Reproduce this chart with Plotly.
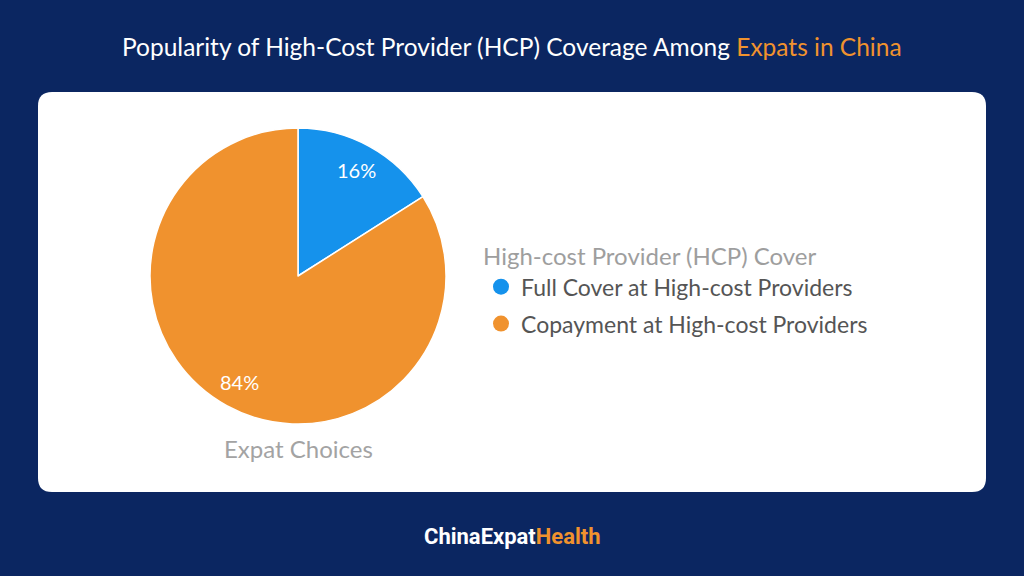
import math
import plotly.graph_objects as go

categories = ["Full Cover at High-cost Providers", "Copayment at High-cost Providers"]
shares = [16, 84]
colors = ["#1592EC", "#F0922E"]
legend_title = "High-cost Provider (HCP) Cover"
pie_caption = "Expat Choices"
title_main = "Popularity of High-Cost Provider (HCP) Coverage Among "
title_hl = "Expats in China"

NAVY = "#0B2661"
FONT = "Lato"
W, H = 1024, 576

# pie geometry (pixels)
CX, CY, R = 298, 276, 148

fig = go.Figure()

fig.add_trace(go.Pie(
    labels=categories,
    values=shares,
    sort=False,
    direction="clockwise",
    rotation=0,
    marker=dict(colors=colors, line=dict(color="white", width=1.5)),
    textinfo="none",
    showlegend=False,
    hoverinfo="label+percent",
    domain=dict(x=[(CX - R) / W, (CX + R) / W], y=[1 - (CY + R) / H, 1 - (CY - R) / H]),
))

for i, (name, c) in enumerate(zip(categories, colors)):
    fig.add_trace(go.Scatter(
        x=[None], y=[None], mode="markers", name=name, legendgroup=f"g{i}",
        marker=dict(symbol="circle", size=17, color=c),
        showlegend=True,
    ))

# percentage labels placed at each slice's mid-angle
total = sum(shares)
annotations = []
cum = 0
for v in shares:
    mid = (cum + v / 2) / total * 2 * math.pi
    cum += v
    px = CX + 0.82 * R * math.sin(mid)
    py = CY - 0.82 * R * math.cos(mid)
    annotations.append(dict(text=f"{v}%", x=px / W, y=1 - py / H, xref="paper", yref="paper",
                            showarrow=False, font=dict(family=FONT, size=20, color="white"),
                            xanchor="center", yanchor="middle"))

# rounded white card
x0, x1 = 38 / W, 986 / W
y0, y1 = 1 - 492 / H, 1 - 92 / H
rx, ry = 14 / W, 14 / H
path = (f"M {x0+rx},{y1} L {x1-rx},{y1} Q {x1},{y1} {x1},{y1-ry} "
        f"L {x1},{y0+ry} Q {x1},{y0} {x1-rx},{y0} "
        f"L {x0+rx},{y0} Q {x0},{y0} {x0},{y0+ry} "
        f"L {x0},{y1-ry} Q {x0},{y1} {x0+rx},{y1} Z")

annotations += [
    dict(text=f"{title_main}<span style='color:#F0922E'>{title_hl}</span>",
         x=512 / W, y=1 - 47 / H, xref="paper", yref="paper", showarrow=False,
         font=dict(family=FONT, size=24.5, color="white"), xanchor="center", yanchor="middle"),
    dict(text=pie_caption, x=298 / W, y=1 - 448 / H, xref="paper", yref="paper",
         showarrow=False, font=dict(family=FONT, size=24, color="#A3A3A3"),
         xanchor="center", yanchor="middle"),
    dict(text="<b>ChinaExpat<span style='color:#F0922E'>Health</span></b>",
         x=512 / W, y=1 - 536 / H, xref="paper", yref="paper", showarrow=False,
         font=dict(family="Roboto", size=22, color="white"), xanchor="center", yanchor="middle"),
]

fig.update_layout(
    width=W, height=H,
    margin=dict(l=0, r=0, t=0, b=0),
    paper_bgcolor=NAVY,
    plot_bgcolor="rgba(0,0,0,0)",
    xaxis=dict(visible=False),
    yaxis=dict(visible=False),
    font=dict(family=FONT),
    shapes=[dict(type="path", path=path, xref="paper", yref="paper",
                 fillcolor="white", line=dict(width=0), layer="below")],
    legend=dict(
        x=481 / W, y=1 - 234 / H, xanchor="left", yanchor="top",
        bgcolor="rgba(0,0,0,0)",
        title=dict(text=legend_title, font=dict(family=FONT, size=24, color="#9E9E9E")),
        font=dict(family=FONT, size=23, color="#555555"),
        itemsizing="trace",
        tracegroupgap=4,
    ),
    annotations=annotations,
)

fig.write_html("out.html")
